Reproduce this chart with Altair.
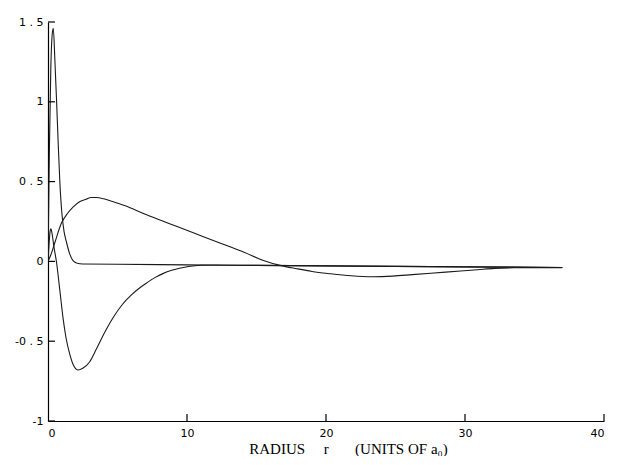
import altair as alt
import pandas as pd

# Curve 1: sharp inner peak
r1 = [0, 0.05, 0.1, 0.2, 0.3, 0.38, 0.5, 0.62, 0.72, 0.85, 1.0, 1.15, 1.33, 1.55, 1.8, 2.1, 2.5,
      5, 10, 15, 20, 25, 30, 37]
v1 = [0, 0.35, 0.7, 1.2, 1.42, 1.46, 1.25, 1.0, 0.77, 0.5, 0.3, 0.19, 0.12, 0.05, 0.005, -0.012, -0.016,
      -0.018, -0.022, -0.025, -0.028, -0.031, -0.034, -0.038]

# Curve 2: small peak, deep minimum
r2 = [0, 0.07, 0.14, 0.21, 0.3, 0.43, 0.62, 0.85, 1.09, 1.3, 1.56, 1.8, 2.16, 2.5, 2.99, 3.5, 4.17,
      4.7, 5.35, 6.0, 6.54, 7.1, 7.72, 8.3, 8.9, 10.1, 11, 12, 15, 20, 25, 30, 37]
v2 = [0, 0.1, 0.18, 0.205, 0.17, 0.09, -0.01, -0.18, -0.36, -0.48, -0.58, -0.645, -0.68, -0.67, -0.63,
      -0.545, -0.43, -0.35, -0.27, -0.21, -0.17, -0.135, -0.10, -0.075, -0.056, -0.032, -0.024, -0.023,
      -0.025, -0.028, -0.031, -0.034, -0.038]

# Curve 3: broad outer lobe
r3 = [0, 0.2, 0.5, 0.97, 1.4, 1.8, 2.3, 2.75, 3.1, 3.5, 4.0, 4.64, 5.5, 7.0, 8.2, 9.38, 10.5, 11.75,
      13, 14.1, 15.5, 16.7, 17.9, 19, 20.3, 21.8, 23.4, 24.8, 26.2, 28.6, 30.9, 32.1, 33.5, 35, 37]
v3 = [0, 0.04, 0.12, 0.24, 0.3, 0.34, 0.375, 0.39, 0.40, 0.40, 0.392, 0.375, 0.35, 0.295, 0.255, 0.215,
      0.178, 0.136, 0.095, 0.058, 0.006, -0.025, -0.046, -0.063, -0.077, -0.09, -0.096, -0.092, -0.083,
      -0.067, -0.052, -0.044, -0.04, -0.039, -0.04]

y_ticks = [-1, -0.5, 0, 0.5, 1, 1.5]
x_ticks = [0, 10, 20, 30, 40]
x_inner_ticks = [10, 20, 30, 40]

rows = []
for name, rs, vs in [("c1", r1, v1), ("c2", r2, v2), ("c3", r3, v3)]:
    for r, v in zip(rs, vs):
        rows.append({"curve": name, "r": r, "v": v})
df = pd.DataFrame(rows)

W, H = 556, 399
NB = "\u00a0"
title_text = "RADIUS" + NB * 5 + "r" + NB * 7 + "(UNITS OF a\u2080)"

x_enc = alt.X(
    "r:Q",
    scale=alt.Scale(domain=[0, 40], nice=False, zero=False),
    axis=alt.Axis(
        values=x_ticks, ticks=False, grid=False, domainColor="black", domainWidth=1.2,
        labelFont="DejaVu Sans", labelFontSize=11, labelColor="black", labelPadding=6,
        labelExpr="toString(datum.value)",
        title=title_text, titleFont="Liberation Serif", titleFontSize=15,
        titleFontWeight="normal", titleColor="black", titleX=300, titleY=32,
        titleAlign="center", titleBaseline="alphabetic",
    ),
)
y_enc = alt.Y(
    "v:Q",
    scale=alt.Scale(domain=[-1, 1.5], nice=False, zero=False),
    axis=alt.Axis(
        values=y_ticks, ticks=False, grid=False, domainColor="black", domainWidth=1.2,
        labelFont="DejaVu Sans", labelFontSize=11, labelColor="black", labelPadding=5,
        labelExpr="replace(toString(datum.value), '.', ' . ')", title=None,
    ),
)

lines = alt.Chart(df).mark_line(
    color="#1a1a1a", strokeWidth=1.1, interpolate="monotone", clip=True
).encode(x=x_enc, y=y_enc, detail="curve:N")

ytick_df = pd.DataFrame({"v": y_ticks})
yticks = alt.Chart(ytick_df).mark_rule(color="black", strokeWidth=1.2).encode(
    y=y_enc, x=alt.value(0), x2=alt.value(7)
)

xtick_df = pd.DataFrame({"r": x_inner_ticks})
xticks = alt.Chart(xtick_df).mark_rule(color="black", strokeWidth=1.2).encode(
    x=x_enc, y=alt.value(H), y2=alt.value(H - 7)
)

chart = alt.layer(lines, yticks, xticks).properties(
    width=W, height=H,
    autosize=alt.AutoSizeParams(type="none"),
    padding={"left": 40, "top": 14, "right": 7, "bottom": 35},
).configure_view(stroke=None)

chart.save("out.html", embed_options={"renderer": "svg", "actions": False})
